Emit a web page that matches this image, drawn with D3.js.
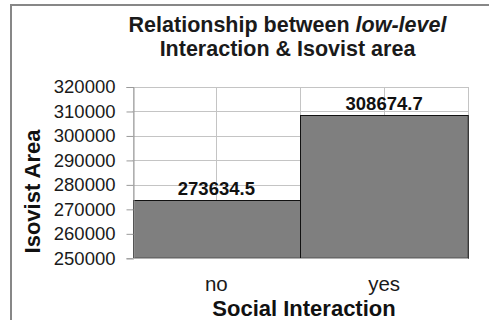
<!DOCTYPE html>
<html>
<head>
<meta charset="utf-8">
<script src="https://cdn.jsdelivr.net/npm/d3@7"></script>
<style>
  html, body { margin: 0; padding: 0; background: #fff; }
  svg { display: block; font-family: "Liberation Sans", Arial, sans-serif; }
</style>
</head>
<body>
<svg id="chart" width="489" height="320"></svg>
<script>
const categories = ["no", "yes"];
const values = [273634.5, 308674.7];
const valueLabels = ["273634.5", "308674.7"];
const yTicks = [250000, 260000, 270000, 280000, 290000, 300000, 310000, 320000];
const titleLine1 = ["Relationship between ", "low-level"];
const titleLine2 = "Interaction & Isovist area";
const xTitle = "Social Interaction";
const yTitle = "Isovist Area";

const svg = d3.select("#chart");

// outer chart border (only left/top visible in frame)
svg.append("rect")
  .attr("x", 11).attr("y", 5)
  .attr("width", 600).attr("height", 400)
  .attr("fill", "#fff")
  .attr("stroke", "#878787")
  .attr("stroke-width", 2);

const plot = { left: 132.5, right: 468, top: 87, bottom: 258.3 };

const x = d3.scaleBand().domain(categories).range([plot.left, plot.right]).padding(0);
const y = d3.scaleLinear().domain([250000, 320000]).range([plot.bottom, plot.top]);

// horizontal gridlines
svg.append("g").selectAll("line").data(yTicks).join("line")
  .attr("x1", plot.left).attr("x2", plot.right)
  .attr("y1", d => Math.round(y(d)) + 0.5).attr("y2", d => Math.round(y(d)) + 0.5)
  .attr("stroke", "#c4c4c4").attr("stroke-width", 1);

// vertical gridlines at band edges and centres
const vx = [];
categories.forEach(c => { vx.push(x(c)); vx.push(x(c) + x.bandwidth() / 2); });
vx.push(plot.right);
svg.append("g").selectAll("line").data(vx).join("line")
  .attr("x1", d => Math.round(d) + 0.5).attr("x2", d => Math.round(d) + 0.5)
  .attr("y1", plot.top).attr("y2", plot.bottom)
  .attr("stroke", "#c4c4c4").attr("stroke-width", 1);

// bars
svg.append("g").selectAll("rect").data(values).join("rect")
  .attr("x", (d, i) => Math.round(x(categories[i])) + 0.5)
  .attr("y", d => Math.round(y(d)) + 0.5)
  .attr("width", x.bandwidth())
  .attr("height", d => plot.bottom - Math.round(y(d)) - 0.5)
  .attr("fill", "#7f7f7f")
  .attr("stroke", "#111")
  .attr("stroke-width", 1);

// y axis
const yAxis = svg.append("g")
  .attr("transform", `translate(${Math.round(plot.left) + 0.5},0)`)
  .call(d3.axisLeft(y).tickValues(yTicks).tickSize(7).tickPadding(11).tickFormat(d3.format("d")));
yAxis.select(".domain").attr("stroke", "#9a9a9a");
yAxis.selectAll(".tick line").attr("stroke", "#9a9a9a");
yAxis.selectAll(".tick text")
  .attr("font-size", "18.5px")
  .attr("fill", "#1a1a1a")
  .attr("font-family", "Liberation Sans, Arial, sans-serif");

// bottom axis line
svg.append("line")
  .attr("x1", plot.left).attr("x2", plot.right)
  .attr("y1", Math.round(plot.bottom) + 0.5).attr("y2", Math.round(plot.bottom) + 0.5)
  .attr("stroke", "#b0b0b0");

// category labels
svg.append("g").selectAll("text").data(categories).join("text")
  .attr("x", d => x(d) + x.bandwidth() / 2)
  .attr("y", 291)
  .attr("text-anchor", "middle")
  .attr("font-size", "20.5px")
  .attr("fill", "#1a1a1a")
  .text(d => d);

// data labels
svg.append("g").selectAll("text").data(values).join("text")
  .attr("x", (d, i) => x(categories[i]) + x.bandwidth() / 2)
  .attr("y", d => y(d) - 5)
  .attr("text-anchor", "middle")
  .attr("font-size", "18.5px")
  .attr("font-weight", "bold")
  .attr("fill", "#111")
  .text((d, i) => valueLabels[i]);

// title
const t1 = svg.append("text")
  .attr("x", 287.5).attr("y", 32)
  .attr("text-anchor", "middle")
  .attr("font-size", "21.5px").attr("font-weight", "bold").attr("fill", "#1a1a1a");
t1.append("tspan").text(titleLine1[0]);
t1.append("tspan").attr("font-style", "italic").text(titleLine1[1]);
svg.append("text")
  .attr("x", 287.5).attr("y", 56)
  .attr("text-anchor", "middle")
  .attr("font-size", "21.5px").attr("font-weight", "bold").attr("fill", "#1a1a1a")
  .text(titleLine2);

// x title
svg.append("text")
  .attr("x", 304).attr("y", 315.5)
  .attr("text-anchor", "middle")
  .attr("font-size", "22px").attr("font-weight", "bold").attr("fill", "#111")
  .text(xTitle);

// y title
svg.append("text")
  .attr("transform", "translate(40,191.5) rotate(-90)")
  .attr("text-anchor", "middle")
  .attr("font-size", "22px").attr("font-weight", "bold").attr("fill", "#111")
  .text(yTitle);
</script>
</body>
</html>
